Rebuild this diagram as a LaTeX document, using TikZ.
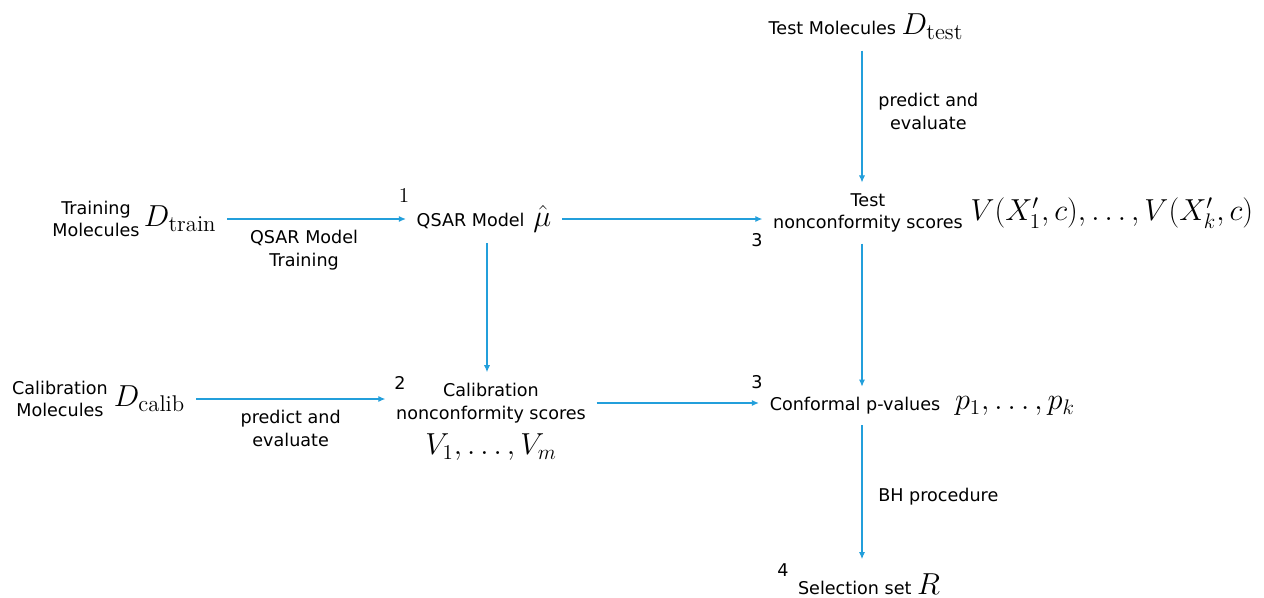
\documentclass[tikz,border=0pt]{standalone}
\usepackage{fontspec}
\newfontfamily\diagfont{DejaVu Sans}
\usetikzlibrary{arrows.meta,positioning}
\definecolor{flowblue}{RGB}{35,159,219}
\newcommand{\mbig}[1]{{\fontsize{18.5}{20}\selectfont$#1$}}
\tikzset{
  txt/.style={font=\diagfont\fontsize{10}{13}\selectfont, inner sep=6pt, align=center},
  lbl/.style={txt},
  stepnum/.style={font=\diagfont\fontsize{10}{13}\selectfont, inner sep=0pt},
  flow/.style={draw=flowblue, line width=0.6pt, -{Latex[length=4pt,width=3.5pt]}},
}
\begin{document}
\begin{tikzpicture}[x=0.02cm,y=-0.02cm]
  \useasboundingbox (0,0) rectangle (1264,598);
  \coordinate (col) at (862,0);
  % inputs
  \node[txt] (trainlbl) at (96,219) {Training\\Molecules};
  \node[txt, right=-10pt of trainlbl] (train) {\mbig{D_{\mathrm{train}}}};
  \node[txt] (calibmol) at (60,399) {Calibration\\Molecules};
  \node[txt, right=-9pt of calibmol] (calibD) {\mbig{D_{\mathrm{calib}}}};
  \node[txt] (testmol) at (866,27) {Test Molecules \mbig{D_{\mathrm{test}}}};
  % model and scores
  \node[txt] (qsar) at (484,219) {QSAR Model\hspace{0.5em}\mbig{\hat{\mu}}};
  \node[txt] (testnc) at (868,213) {Test\\nonconformity scores};
  \node[txt, right=-8pt of testnc] (testV) {\mbig{V(X_1',c),\dots,V(X_k',c)}};
  \node[txt] (calib) at (491,403) {Calibration\\nonconformity scores};
  \node[txt, below=-6pt of calib] (calibV) {\mbig{V_1,\dots,V_m}};
  \node[txt] (conf) at (855,406) {Conformal p-values};
  \node[txt, right=-4pt of conf] (pvals) {\mbig{p_1,\dots,p_k}};
  \node[txt, inner sep=3pt] (sel) at (869,584) {Selection set \mbig{R}};
  % step numbers
  \node[stepnum, font=\fontsize{12}{14}\selectfont] (s1) at (404,196) {$1$};
  \node[stepnum] (s2) at (400,383) {2};
  \node[stepnum] (s3a) at (757,240) {3};
  \node[stepnum] (s3b) at (757,382) {3};
  \node[stepnum] (s4) at (783,570) {4};
  % connectors
  \draw[flow] (train.east) -- node[lbl, below, pos=0.43] {QSAR Model\\Training} (train.east -| qsar.west);
  \draw[flow] (calibD.east) -- node[lbl, below] {predict and\\evaluate} (calibD.east -| calib.west);
  \draw[flow] (qsar.east) -- (qsar.east -| testnc.west);
  \draw[flow] (qsar.south -| 487,0) -- (calib.north -| 487,0);
  \draw[flow] (calib.east) -- (calib.east -| conf.west);
  \draw[flow] (testmol.south -| col) -- node[lbl, right, xshift=3pt, yshift=3pt] {predict and\\evaluate} (testnc.north -| col);
  \draw[flow] (testnc.south -| col) -- (conf.north -| col);
  \draw[flow, shorten >=5pt] (conf.south -| col) -- node[lbl, right, xshift=3pt] {BH procedure} (sel.north -| col);
\end{tikzpicture}
\end{document}
